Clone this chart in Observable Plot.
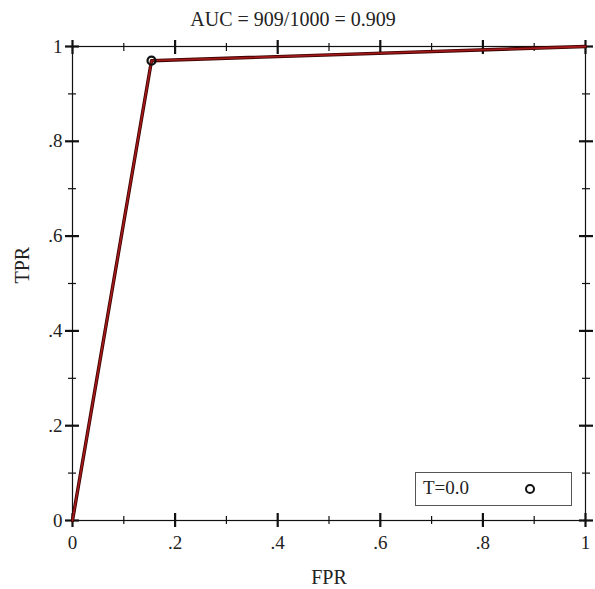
<!DOCTYPE html>
<html>
<head>
<meta charset="utf-8">
<script src="https://cdn.jsdelivr.net/npm/d3@7"></script>
<script src="https://cdn.jsdelivr.net/npm/@observablehq/plot@0.6"></script>
<style>
  html, body { margin: 0; padding: 0; background: #fff; }
  #wrap { position: relative; width: 595px; height: 589px; font-family: "Liberation Serif", "Times New Roman", serif; }
  #legend { position: absolute; left: 415px; top: 472px; width: 157px; height: 34px; border: 1px solid #555; background: #fff; box-sizing: border-box; }
  #legend span { position: absolute; left: 7px; top: 4px; font-size: 19px; color: #222; }
  #legend i { position: absolute; left: 109px; top: 11px; width: 6px; height: 6px; border: 2.2px solid #111; border-radius: 50%; }
</style>
</head>
<body>
<div id="wrap"></div>
<script>
const fpr = [0, 0.154, 1];
const tpr = [0, 0.970, 1];
const thresholdFpr = [0.154];
const thresholdTpr = [0.970];
const legendLabel = "T=0.0";
const title = "AUC = 909/1000 = 0.909";
const xLabel = "FPR";
const yLabel = "TPR";
const majorTicks = [0, 0.2, 0.4, 0.6, 0.8, 1];
const minorTicks = [0.1, 0.3, 0.5, 0.7, 0.9];

const fmt = d => d === 0 ? "0" : d === 1 ? "1" : String(+d.toFixed(1)).replace("0.", ".");
const blank = () => "";
const curve = fpr.map((x, i) => ({x, y: tpr[i]}));
const pts = thresholdFpr.map((x, i) => ({x, y: thresholdTpr[i]}));

function axesX(anchor, labels) {
  return [
    Plot.axisX({anchor, ticks: majorTicks, tickSize: 7, tickFormat: labels ? fmt : blank, label: null, strokeWidth: 2.2, stroke: "#111", fontSize: 19, tickPadding: 8, fill: "#222"}),
    Plot.axisX({anchor, ticks: majorTicks, tickSize: -7, tickFormat: blank, label: null, strokeWidth: 2.2, stroke: "#111"}),
    Plot.axisX({anchor, ticks: minorTicks, tickSize: 4, tickFormat: blank, label: null, strokeWidth: 1.2, stroke: "#111"}),
    Plot.axisX({anchor, ticks: minorTicks, tickSize: -4, tickFormat: blank, label: null, strokeWidth: 1.2, stroke: "#111"})
  ];
}
function axesY(anchor, labels) {
  return [
    Plot.axisY({anchor, ticks: majorTicks, tickSize: 7, tickFormat: labels ? fmt : blank, label: null, strokeWidth: 2.2, stroke: "#111", fontSize: 19, tickPadding: 3, fill: "#222"}),
    Plot.axisY({anchor, ticks: majorTicks, tickSize: -7, tickFormat: blank, label: null, strokeWidth: 2.2, stroke: "#111"}),
    Plot.axisY({anchor, ticks: minorTicks, tickSize: 4, tickFormat: blank, label: null, strokeWidth: 1.2, stroke: "#111"}),
    Plot.axisY({anchor, ticks: minorTicks, tickSize: -4, tickFormat: blank, label: null, strokeWidth: 1.2, stroke: "#111"})
  ];
}

const chart = Plot.plot({
  width: 595,
  height: 589,
  marginLeft: 72,
  marginRight: 10,
  marginTop: 46,
  marginBottom: 69,
  style: {fontFamily: "'Liberation Serif', 'Times New Roman', serif", background: "#fff", color: "#222"},
  x: {domain: [0, 1]},
  y: {domain: [0, 1]},
  marks: [
    Plot.frame({stroke: "#111", strokeWidth: 1.2}),
    ...axesX("bottom", true),
    ...axesX("top", false),
    ...axesY("left", true),
    ...axesY("right", false),
    Plot.line(curve, {x: "x", y: "y", stroke: "#3a0000", strokeWidth: 3.4}),
    Plot.line(curve, {x: "x", y: "y", stroke: "#a01818", strokeWidth: 1.8}),
    Plot.dot(pts, {x: "x", y: "y", r: 4, stroke: "#111", strokeWidth: 2.2, fill: "none"}),
    Plot.text([title], {frameAnchor: "top", lineAnchor: "middle", dx: -36, dy: -27, text: d => d, fontSize: 20, fill: "#222"}),
    Plot.text([xLabel], {frameAnchor: "bottom", lineAnchor: "middle", dy: 57, text: d => d, fontSize: 20, fill: "#222"}),
    Plot.text([yLabel], {frameAnchor: "left", lineAnchor: "middle", dx: -50, rotate: -90, text: d => d, fontSize: 20, fill: "#222"})
  ]
});

const wrap = document.getElementById("wrap");
wrap.appendChild(chart);
const lg = document.createElement("div");
lg.id = "legend";
lg.innerHTML = `<span>${legendLabel}</span><i></i>`;
wrap.appendChild(lg);
</script>
</body>
</html>
